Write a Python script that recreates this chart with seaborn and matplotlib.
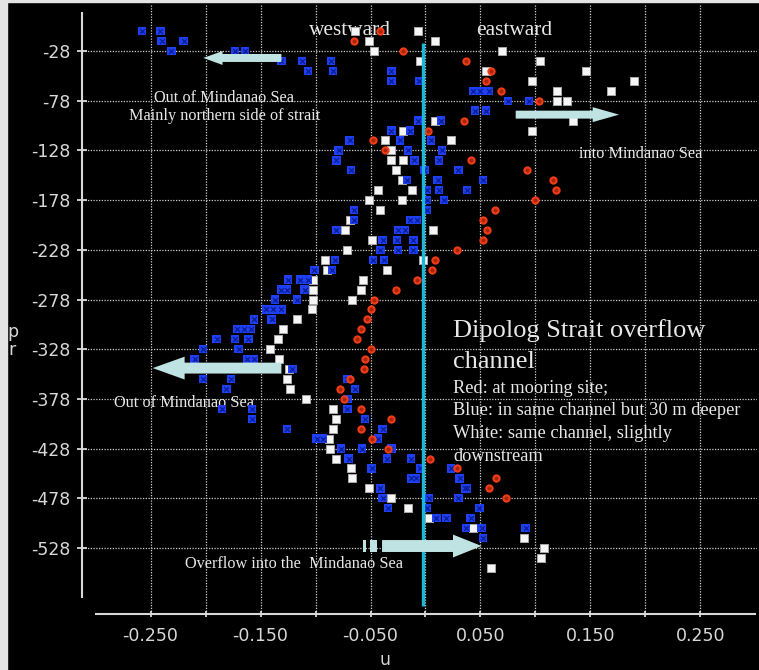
import matplotlib
matplotlib.use("Agg")
import numpy as np
import pandas as pd
import matplotlib.pyplot as plt
import seaborn as sns
from matplotlib.patches import FancyArrow, Rectangle

# Velocity profiles, Dipolog Strait (u in m/s, pr in dbar, plotted negative)
blue_pr = [-8, -8, -18, -18, -28, -28, -28, -38, -38, -38, -48, -48, -48,
           -58, -58, -68, -68, -68, -78, -78, -88, -88, -98, -98, -108, -108,
           -118, -118, -118, -128, -128, -128, -138, -138, -138,
           -148, -148, -148, -158, -158, -158, -168, -168, -168, -178, -178,
           -188, -188, -198, -198, -198, -208, -208, -208, -218, -218, -218,
           -228, -228, -228, -238, -238, -238, -248, -248, -258, -258, -258,
           -268, -268, -268, -278, -278, -288, -288, -288, -298, -298,
           -308, -308, -308, -318, -318, -318, -328, -328, -338, -338, -338,
           -348, -358, -358, -358, -368, -368, -378, -388, -388, -388,
           -398, -398, -408, -408, -418, -418, -418, -428, -428, -428,
           -438, -438, -438, -448, -448, -448, -458, -458, -458,
           -468, -468, -468, -478, -478, -478, -488, -488, -488,
           -498, -498, -498, -508, -508, -508, -518]
blue_u = [-0.258, -0.241, -0.240, -0.220, -0.231, -0.173, -0.164, -0.131, -0.112, -0.086, -0.107, -0.084, -0.031,
          -0.031, -0.006, 0.043, 0.050, 0.058, 0.075, 0.094, 0.045, 0.055, -0.007, 0.014, -0.031, -0.014,
          -0.069, -0.023, 0.005, -0.079, -0.016, 0.015, -0.081, -0.010, 0.012,
          -0.068, -0.001, 0.030, -0.017, 0.011, 0.052, 0.001, 0.012, 0.038, 0.001, 0.017,
          -0.065, 0.001, -0.065, -0.014, -0.008, -0.081, -0.025, -0.019, -0.039, -0.026, -0.011,
          -0.041, -0.025, -0.011, -0.082, -0.048, -0.038, -0.101, -0.085, -0.125, -0.114, -0.107,
          -0.131, -0.126, -0.110, -0.137, -0.117, -0.145, -0.139, -0.131, -0.156, -0.140,
          -0.171, -0.165, -0.159, -0.190, -0.173, -0.161, -0.202, -0.170, -0.210, -0.162, -0.156,
          -0.121, -0.202, -0.177, -0.071, -0.181, -0.064, -0.071, -0.185, -0.158, -0.071,
          -0.158, -0.055, -0.126, -0.039, -0.099, -0.093, -0.043, -0.077, -0.058, -0.031,
          -0.070, -0.035, -0.013, -0.049, -0.005, 0.023, -0.013, -0.009, 0.031,
          -0.041, 0.036, 0.038, -0.039, 0.003, 0.030, -0.034, 0.001, 0.049,
          0.010, 0.019, 0.041, 0.037, 0.051, 0.091, 0.052]

red_pr = [-8, -18, -28, -38, -48, -58, -68, -78, -98, -108, -118, -128, -138,
          -148, -158, -168, -178, -188, -198, -208, -218, -228, -238, -248,
          -258, -268, -278, -288, -298, -308, -318, -328, -338, -348, -358,
          -368, -378, -388, -398, -408, -418, -428, -438, -448, -458, -468, -478]
red_u = [-0.041, -0.065, -0.020, 0.037, 0.060, 0.055, 0.069, 0.103, 0.035, 0.002, -0.048, -0.037, 0.041,
         0.092, 0.116, 0.119, 0.100, 0.063, 0.052, 0.056, 0.052, 0.029, 0.009, 0.006,
         -0.008, -0.027, -0.047, -0.050, -0.053, -0.059, -0.062, -0.050, -0.055, -0.056, -0.069,
         -0.078, -0.074, -0.059, -0.031, -0.059, -0.049, -0.034, 0.004, 0.029, 0.064, 0.058, 0.073]

white_pr = [-8, -8, -18, -18, -28, -28, -38, -38, -48, -48, -58, -58, -68, -68,
            -78, -78, -98, -98, -108, -108, -118, -118, -128, -138, -138, -148,
            -158, -168, -168, -178, -178, -188, -198, -208, -208, -218, -228,
            -238, -238, -248, -248, -258, -258, -268, -268, -278, -278,
            -288, -298, -308, -318, -328, -338, -348, -358, -368, -378,
            -388, -398, -408, -418, -428, -438, -448, -458, -468, -478,
            -488, -498, -508, -518, -528, -538, -548]
white_u = [-0.064, -0.007, -0.051, 0.009, -0.047, 0.070, -0.005, 0.104, 0.055, 0.146, 0.097, 0.190, 0.120, 0.169,
           0.120, 0.129, 0.009, 0.134, -0.020, 0.097, -0.037, 0.023, -0.031, -0.031, -0.020, -0.027,
           -0.021, -0.043, -0.012, -0.051, -0.021, -0.041, -0.069, -0.073, 0.007, -0.049, -0.071,
           -0.091, -0.002, -0.090, -0.035, -0.102, -0.057, -0.102, -0.059, -0.102, -0.067,
           -0.103, -0.117, -0.130, -0.134, -0.141, -0.133, -0.124, -0.126, -0.123, -0.109,
           -0.084, -0.081, -0.084, -0.088, -0.087, -0.081, -0.068, -0.067, -0.051, -0.031,
           -0.016, 0.003, 0.043, 0.090, 0.108, 0.105, 0.060]

y_ticks = [-28, -78, -128, -178, -228, -278, -328, -378, -428, -478, -528]
x_ticks = [-0.25, -0.20, -0.15, -0.10, -0.05, 0.0, 0.05, 0.10, 0.15, 0.20, 0.25]
x_labels = ["-0.250", "", "-0.150", "", "-0.050", "", "0.050", "", "0.150", "", "0.250"]

blue = pd.DataFrame({"u": blue_u, "pr": blue_pr})
red = pd.DataFrame({"u": red_u, "pr": red_pr})
white = pd.DataFrame({"u": white_u, "pr": white_pr})

sns.set_style("ticks", {"axes.facecolor": "black", "figure.facecolor": "black",
                        "axes.edgecolor": "#d8d8d8", "xtick.color": "#d8d8d8",
                        "ytick.color": "#d8d8d8", "text.color": "#e6e6e6"})
plt.rcParams["font.family"] = ["DejaVu Sans"]

fig = plt.figure(figsize=(7.59, 6.70), dpi=100)
fig.patches.append(Rectangle((0, 0), 7 / 759, 1, transform=fig.transFigure,
                             color="#e4e4e4", zorder=0))
fig.patches.append(Rectangle((0, 1 - 2 / 670), 1, 2 / 670, transform=fig.transFigure,
                             color="#e4e4e4", zorder=0))
ax = fig.add_axes([82 / 759, 56 / 670, 675 / 759, 609 / 670])
ax.set_facecolor("black")

sns.scatterplot(data=white, x="u", y="pr", marker="s", s=38, color="#f6f6f6",
                edgecolor="#a8a8a8", linewidth=0.7, ax=ax, zorder=3, legend=False)
sns.scatterplot(data=blue, x="u", y="pr", marker="s", s=36, color="#1f3ff2",
                edgecolor="none", ax=ax, zorder=3.2, legend=False)
sns.scatterplot(data=blue, x="u", y="pr", marker="x", s=12, color="#0c1f9c",
                linewidth=1.0, ax=ax, zorder=3.3, legend=False)
sns.scatterplot(data=red, x="u", y="pr", marker="o", s=20, color="#a8250a",
                edgecolor="#f23c18", linewidth=1.5, ax=ax, zorder=3.4, legend=False)

# cyan reference line
ax.plot([-0.002, -0.002], [-20, -586], color="#1ab8d8", lw=2.4, zorder=4,
        solid_capstyle="butt")

# flow arrows
arrow_col = "#bfe3e3"
ax.add_patch(FancyArrow(-0.131, -35, -0.071, 0, width=8, head_width=14,
                        head_length=0.0175, length_includes_head=True,
                        color=arrow_col, lw=0, zorder=5))
ax.add_patch(FancyArrow(0.082, -92, 0.094, 0, width=8, head_width=15,
                        head_length=0.024, length_includes_head=True,
                        color=arrow_col, lw=0, zorder=5))
ax.add_patch(FancyArrow(-0.131, -347, -0.117, 0, width=11, head_width=23,
                        head_length=0.029, length_includes_head=True,
                        color=arrow_col, lw=0, zorder=5))
ax.add_patch(FancyArrow(-0.0395, -526, 0.0905, 0, width=12, head_width=23,
                        head_length=0.026, length_includes_head=True,
                        color=arrow_col, lw=0, zorder=5))
ax.add_patch(Rectangle((-0.0568, -532), 0.0027, 12, color=arrow_col, lw=0, zorder=5))
ax.add_patch(Rectangle((-0.0505, -532), 0.0064, 12, color=arrow_col, lw=0, zorder=5))

# annotations
serif = ["Liberation Serif", "DejaVu Serif"]
tc = "#e8e8e8"
ax.text(-0.0686, -12, "westward", fontsize=15.4, family=serif, color=tc, ha="center", va="baseline", zorder=2)
ax.text(0.081, -12, "eastward", fontsize=15.4, family=serif, color=tc, ha="center", va="baseline", zorder=2)
ax.text(-0.183, -79, "Out of Mindanao Sea", fontsize=11.7, family=serif, color=tc, ha="center", va="baseline", zorder=2)
ax.text(-0.183, -97, "Mainly northern side of strait", fontsize=11.7, family=serif, color=tc, ha="center", va="baseline", zorder=2)
ax.text(0.196, -136, "into Mindanao Sea", fontsize=11.7, family=serif, color=tc, ha="center", va="baseline", zorder=2)
ax.text(-0.220, -386, "Out of Mindanao Sea", fontsize=11.7, family=serif, color=tc, ha="center", va="baseline", zorder=2)
ax.text(-0.120, -548, "Overflow into the  Mindanao Sea", fontsize=11.7, family=serif, color=tc, ha="center", va="baseline", zorder=2)
ax.text(0.025, -316, "Dipolog Strait overflow", fontsize=19, family=serif, color=tc, ha="left", va="baseline", zorder=2)
ax.text(0.025, -347, "channel", fontsize=19, family=serif, color=tc, ha="left", va="baseline", zorder=2)
ax.text(0.025, -372, "Red: at mooring site;", fontsize=13.2, family=serif, color=tc, ha="left", va="baseline", zorder=2)
ax.text(0.025, -394, "Blue: in same channel but 30 m deeper", fontsize=13.2, family=serif, color=tc, ha="left", va="baseline", zorder=2)
ax.text(0.025, -417, "White: same channel, slightly", fontsize=13.2, family=serif, color=tc, ha="left", va="baseline", zorder=2)
ax.text(0.025, -440, "downstream", fontsize=13.2, family=serif, color=tc, ha="left", va="baseline", zorder=2)

# axes
ax.set_xlim(-0.3123, 0.3014)
ax.set_ylim(-594.4, 18.3)
ax.set_xticks(x_ticks)
ax.set_xticklabels(x_labels)
ax.set_yticks(y_ticks)
ax.set_yticklabels([str(v) for v in y_ticks])
ax.set_xlabel("")
ax.set_ylabel("")
ax.grid(True, color="#cfcfcf", linestyle=(0, (1, 1.2)), linewidth=0.9)
ax.set_axisbelow(True)
for side in ["top", "right"]:
    ax.spines[side].set_visible(False)
ax.spines["left"].set_bounds(-577, 10)
ax.spines["bottom"].set_bounds(-0.3, 0.3)
for side in ["left", "bottom"]:
    ax.spines[side].set_color("#d8d8d8")
    ax.spines[side].set_linewidth(1.5)
ax.tick_params(axis="x", direction="inout", length=5, width=1.3, pad=7,
               labelsize=12.5, colors="#d8d8d8")
ax.tick_params(axis="y", direction="inout", length=7, width=1.3, pad=5,
               labelsize=12.5, colors="#d8d8d8")

fig.text(12.5 / 759, 1 - 332 / 670, "p", fontsize=12.5, color="#d8d8d8", ha="center", va="center")
fig.text(12.5 / 759, 1 - 350 / 670, "r", fontsize=12.5, color="#d8d8d8", ha="center", va="center")
fig.text(385 / 759, 1 / 670, "u", fontsize=12.5, color="#d8d8d8", ha="center", va="bottom")

fig.savefig("out.png", dpi=100, facecolor="black")
